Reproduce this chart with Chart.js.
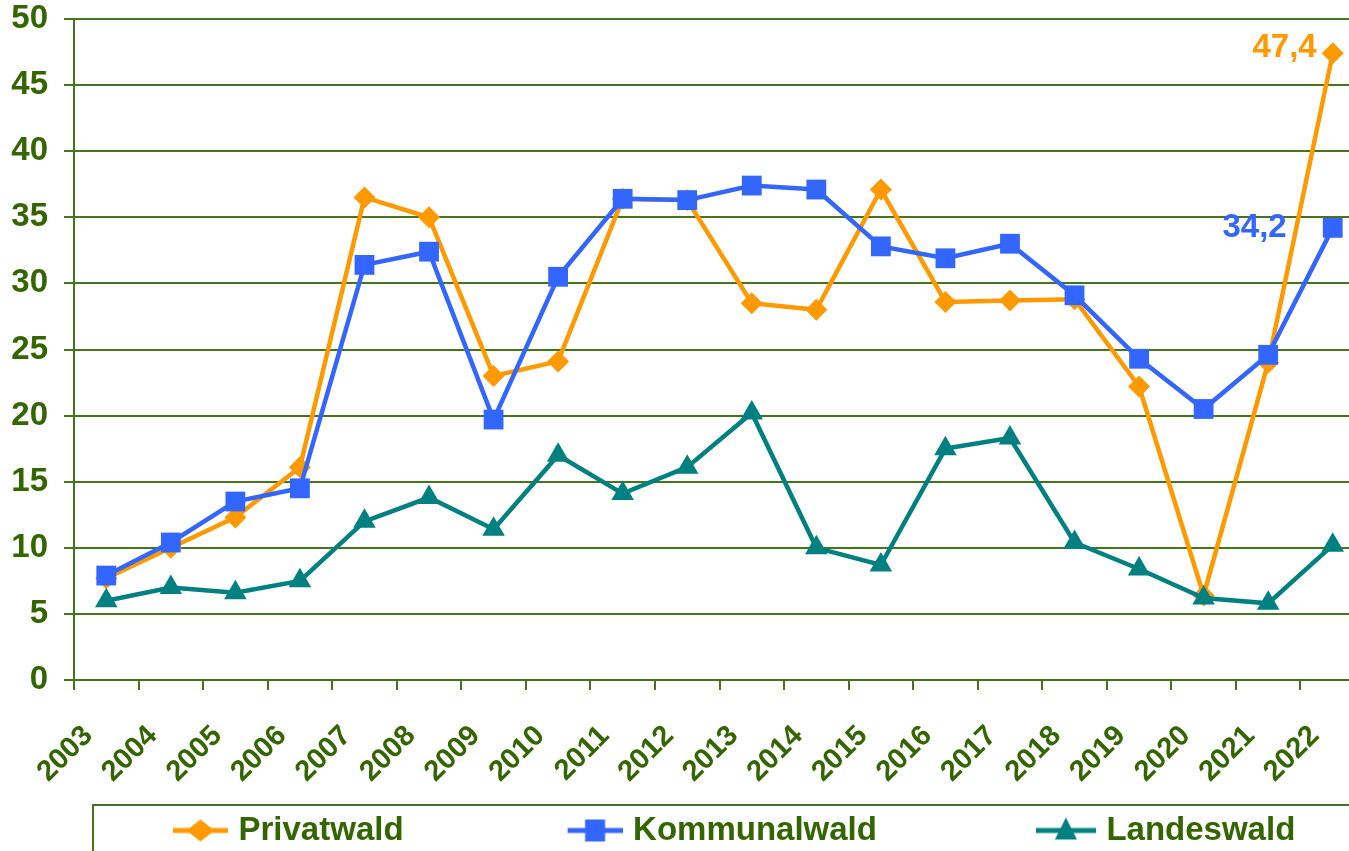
<!DOCTYPE html>
<html>
<head>
<meta charset="utf-8">
<script src="https://cdn.jsdelivr.net/npm/chart.js@4.4.1/dist/chart.umd.min.js"></script>
<style>
  html, body { margin: 0; padding: 0; overflow: hidden; background: #ffffff; }
  #wrap { width: 1379px; height: 857px; }
</style>
</head>
<body>
<div id="wrap"><canvas id="c" width="1379" height="857"></canvas></div>
<script>
const years = ['2003','2004','2005','2006','2007','2008','2009','2010','2011','2012','2013','2014','2015','2016','2017','2018','2019','2020','2021','2022'];
const privatwald   = [7.7, 10.0, 12.3, 16.1, 36.5, 35.0, 23.0, 24.1, 36.4, 36.3, 28.5, 28.0, 37.1, 28.6, 28.7, 28.8, 22.2, 6.4, 24.0, 47.4];
const kommunalwald = [7.9, 10.4, 13.5, 14.5, 31.4, 32.4, 19.7, 30.5, 36.4, 36.3, 37.4, 37.1, 32.8, 31.9, 33.0, 29.1, 24.3, 20.5, 24.6, 34.2];
const landeswald   = [6.0, 7.0, 6.6, 7.5, 12.0, 13.8, 11.4, 17.0, 14.1, 16.1, 20.2, 10.0, 8.7, 17.5, 18.3, 10.4, 8.4, 6.2, 5.8, 10.2];
const seriesNames = ['Privatwald', 'Kommunalwald', 'Landeswald'];
const yTicks = [0, 5, 10, 15, 20, 25, 30, 35, 40, 45, 50];
const valueLabels = ['47,4', '34,2'];

const GREEN = '#336600';
const GRID = '#46741a';
const ORANGE = '#ff9900';
const BLUE = '#3366ff';
const TEAL = '#008080';
const FONT = "'Liberation Sans', Arial, sans-serif";

function legendIcon(color, style, boxW) {
  const c = document.createElement('canvas');
  const w = boxW + 12, h = 30;
  c.width = w; c.height = h;
  const g = c.getContext('2d');
  const cy = h / 2;
  const len = style === 'triangle' ? 60 : 55;
  g.strokeStyle = color; g.lineWidth = 5;
  g.beginPath(); g.moveTo(w - len, cy); g.lineTo(w, cy); g.stroke();
  const cx = w - len / 2;
  g.fillStyle = color;
  g.beginPath();
  if (style === 'diamond') {
    g.moveTo(cx - 14, cy); g.lineTo(cx, cy - 11); g.lineTo(cx + 14, cy); g.lineTo(cx, cy + 11);
  } else if (style === 'square') {
    g.rect(cx - 10, cy - 11, 20, 22);
  } else {
    g.moveTo(cx, cy - 13); g.lineTo(cx + 11, cy + 9); g.lineTo(cx - 11, cy + 9);
  }
  g.closePath(); g.fill();
  return c;
}

const BOXW = 213;
const icons = [legendIcon(ORANGE, 'diamond', BOXW), legendIcon(BLUE, 'square', BOXW), legendIcon(TEAL, 'triangle', BOXW)];

const legendFrame = {
  id: 'legendFrame',
  afterLayout(chart) {
    chart.legend.left = 228 - 6 - BOXW;
  },
  afterDraw(chart) {
    const lg = chart.legend;
    const ctx = chart.ctx;
    ctx.save();
    ctx.strokeStyle = GRID;
    ctx.lineWidth = 2;
    ctx.strokeRect(93, lg.top - 9, 1280, 120);
    ctx.restore();
  }
};

const endLabels = {
  id: 'endLabels',
  afterDatasetsDraw(chart) {
    const ctx = chart.ctx;
    ctx.save();
    ctx.font = 'bold 33px ' + FONT;
    ctx.textAlign = 'right';
    ctx.textBaseline = 'middle';
    const specs = [[0, ORANGE, 16, -5], [1, BLUE, 46, 0]];
    specs.forEach(([di, col, dx, dy], k) => {
      const meta = chart.getDatasetMeta(di);
      const pt = meta.data[meta.data.length - 1];
      ctx.fillStyle = col;
      ctx.fillText(valueLabels[k], pt.x - dx, pt.y + dy);
    });
    ctx.restore();
  }
};

new Chart(document.getElementById('c'), {
  type: 'line',
  data: {
    labels: years,
    datasets: [
      { label: seriesNames[0], data: privatwald, borderColor: ORANGE, backgroundColor: ORANGE,
        borderWidth: 4.5, pointStyle: 'rectRot', pointRadius: 11, pointBorderWidth: 0, pointBackgroundColor: ORANGE, order: 3 },
      { label: seriesNames[1], data: kommunalwald, borderColor: BLUE, backgroundColor: BLUE,
        borderWidth: 4.5, pointStyle: 'rect', pointRadius: 14, pointBorderWidth: 0, pointBackgroundColor: BLUE, order: 2 },
      { label: seriesNames[2], data: landeswald, borderColor: TEAL, backgroundColor: TEAL,
        borderWidth: 4.5, pointStyle: 'triangle', pointRadius: 13, pointBorderWidth: 0, pointBackgroundColor: TEAL, order: 1 }
    ]
  },
  options: {
    responsive: false,
    animation: false,
    devicePixelRatio: 1,
    layout: { padding: { top: 19, left: 0, right: 0, bottom: 0 } },
    plugins: {
      tooltip: { enabled: false },
      legend: {
        position: 'bottom',
        align: 'start',
        labels: {
          usePointStyle: true,
          pointStyleWidth: BOXW,
          padding: 0,
          color: GREEN,
          font: { size: 33, weight: 'bold', family: FONT },
          generateLabels: (chart) => seriesNames.map((n, i) => ({
            text: n, pointStyle: icons[i], fillStyle: 'transparent', strokeStyle: 'transparent',
            lineWidth: 0, hidden: false, datasetIndex: i, fontColor: GREEN
          }))
        }
      }
    },
    scales: {
      x: {
        type: 'category',
        offset: true,
        grid: { offset: true, drawOnChartArea: false, drawTicks: true, tickLength: 10, color: GRID, lineWidth: 2 },
        border: { display: true, color: GRID, width: 2 },
        ticks: {
          autoSkip: false, minRotation: 45, maxRotation: 45, labelOffset: -18, padding: 29,
          color: GREEN, font: { size: 29, weight: 'bold', family: FONT }
        },
        afterFit: (s) => { s.height = 134; s.paddingLeft = 0; s.paddingRight = 0; }
      },
      y: {
        min: 0, max: 50,
        afterBuildTicks: (s) => { s.ticks = yTicks.map(v => ({ value: v })); },
        grid: { color: GRID, lineWidth: 2, tickLength: 10, drawTicks: true },
        border: { display: true, color: GRID, width: 2 },
        ticks: { padding: 16, color: GREEN, font: { size: 33, weight: 'bold', family: FONT } },
        afterFit: (s) => { s.width = 74; s.paddingTop = 0; s.paddingBottom = 0; }
      }
    }
  },
  plugins: [legendFrame, endLabels]
});
</script>
</body>
</html>
